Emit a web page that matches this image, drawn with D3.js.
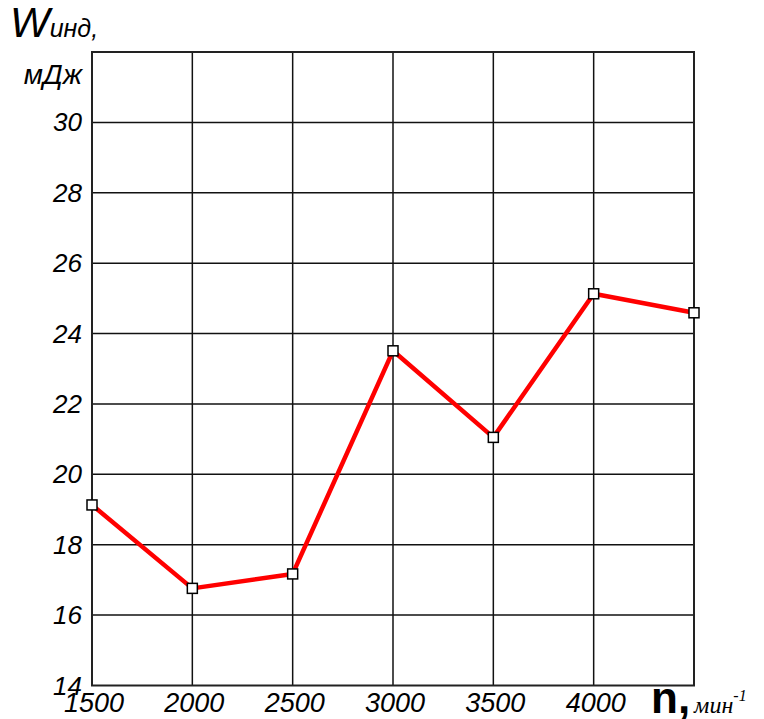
<!DOCTYPE html>
<html>
<head>
<meta charset="utf-8">
<script src="https://cdn.jsdelivr.net/npm/d3@7"></script>
<style>
  body { margin: 0; background: #fff; }
  svg text { font-family: "Liberation Sans", Arial, sans-serif; font-style: italic; fill: #000; }
</style>
</head>
<body>
<svg id="chart" width="764" height="719"></svg>
<script>
// data
var rpm = [1500, 2000, 2500, 3000, 3500, 4000, 4500];
var work = [19.13, 16.76, 17.17, 23.51, 21.05, 25.13, 24.59];
var xTicks = [1500, 2000, 2500, 3000, 3500, 4000];
var xGrid = [2000, 2500, 3000, 3500, 4000];
var yTicks = [14, 16, 18, 20, 22, 24, 26, 28, 30];

var svg = d3.select("#chart");

var x = d3.scaleLinear().domain([1500, 4500]).range([92, 694]);
var y = d3.scaleLinear().domain([14, 32]).range([685.5, 52]);

// grid
svg.append("g").selectAll("line")
  .data(yTicks.slice(1))
  .enter().append("line")
  .attr("x1", x(1500)).attr("x2", x(4500))
  .attr("y1", function(d) { return y(d); })
  .attr("y2", function(d) { return y(d); })
  .attr("stroke", "#111").attr("stroke-width", 1.5);

svg.append("g").selectAll("line")
  .data(xGrid)
  .enter().append("line")
  .attr("x1", function(d) { return x(d); })
  .attr("x2", function(d) { return x(d); })
  .attr("y1", y(32)).attr("y2", y(14))
  .attr("stroke", "#111").attr("stroke-width", 1.5);

// frame
svg.append("rect")
  .attr("x", x(1500)).attr("y", y(32))
  .attr("width", x(4500) - x(1500))
  .attr("height", y(14) - y(32))
  .attr("fill", "none").attr("stroke", "#222").attr("stroke-width", 2);

// y tick labels
svg.append("g").selectAll("text")
  .data(yTicks)
  .enter().append("text")
  .attr("x", 82)
  .attr("y", function(d) { return y(d) + 9; })
  .attr("text-anchor", "end")
  .attr("font-size", 26)
  .text(function(d) { return d; });

// x tick labels
svg.append("g").selectAll("text")
  .data(xTicks)
  .enter().append("text")
  .attr("x", function(d) { return x(d) + 2; })
  .attr("y", 712)
  .attr("text-anchor", "middle")
  .attr("font-size", 27)
  .text(function(d) { return d; });

// line
var line = d3.line()
  .x(function(d, i) { return x(rpm[i]); })
  .y(function(d) { return y(d); });

svg.append("path")
  .datum(work)
  .attr("d", line)
  .attr("fill", "none")
  .attr("stroke", "#ff0000")
  .attr("stroke-width", 4.5)
  .attr("stroke-linejoin", "round");

// markers
svg.append("g").selectAll("rect")
  .data(work)
  .enter().append("rect")
  .attr("x", function(d, i) { return x(rpm[i]) - 5; })
  .attr("y", function(d) { return y(d) - 5; })
  .attr("width", 10).attr("height", 10)
  .attr("fill", "#fff").attr("stroke", "#000").attr("stroke-width", 1.5);

// axis titles
var wt = svg.append("text").attr("x", 10).attr("y", 37);
wt.append("tspan").attr("font-size", 42).text("W");
wt.append("tspan").attr("font-size", 25).text("инд,");

svg.append("text")
  .attr("x", 82).attr("y", 84)
  .attr("text-anchor", "end")
  .attr("font-size", 28)
  .text("мДж");

var nt = svg.append("text").attr("x", 651).attr("y", 713);
nt.append("tspan")
  .attr("font-size", 44).attr("font-weight", "bold").attr("font-style", "normal")
  .text("n,");
nt.append("tspan")
  .attr("font-family", "Liberation Serif, Times New Roman, serif")
  .attr("font-size", 24).attr("dx", 4)
  .text("мин");
nt.append("tspan")
  .attr("font-family", "Liberation Serif, Times New Roman, serif")
  .attr("font-size", 16).attr("dy", -12)
  .text("-1");
</script>
</body>
</html>
